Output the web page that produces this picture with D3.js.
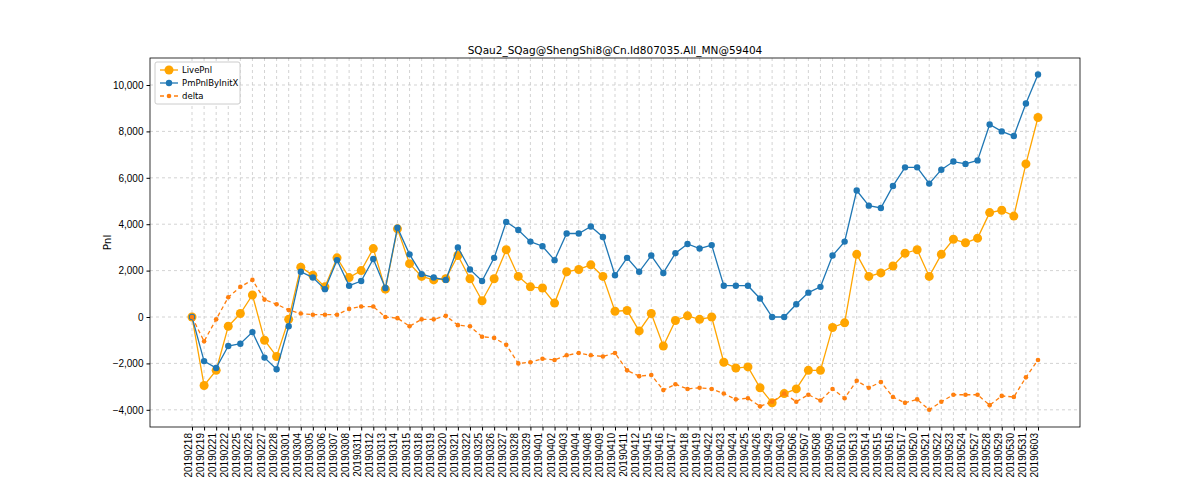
<!DOCTYPE html>
<html><head><meta charset="utf-8">
<script src="https://cdn.jsdelivr.net/npm/d3@7"></script>
<style>body{margin:0;background:#fff}svg{font-family:"DejaVu Sans",sans-serif}</style>
</head><body><div id="chart"></div>
<script>
// data
const dates = ["20190218","20190219","20190221","20190222","20190225","20190226","20190227","20190228",
  "20190301","20190304","20190305","20190306","20190307","20190308","20190311","20190312","20190313","20190314","20190315","20190318","20190319","20190320","20190321","20190322","20190325","20190326","20190327","20190328","20190329",
  "20190401","20190402","20190403","20190404","20190408","20190409","20190410","20190411","20190412","20190415","20190416","20190417","20190418","20190419","20190422","20190423","20190424","20190425","20190426","20190429","20190430",
  "20190506","20190507","20190508","20190509","20190510","20190513","20190514","20190515","20190516","20190517","20190520","20190521","20190522","20190523","20190524","20190527","20190528","20190529","20190530","20190531","20190603"];
const livePnl = [0,-2950,-2300,-400,150,950,-1000,-1700,-100,2150,1800,1300,2550,1700,2000,2950,1200,3800,2300,1750,1600,1650,2650,1650,700,1650,2900,1750,1300,1250,600,1950,2050,2250,1750,250,280,-600,150,-1250,-150,50,-100,0,-1950,-2200,-2150,-3050,-3700,-3300,-3100,-2300,-2300,-450,-250,2700,1750,1900,2200,2750,2900,1750,2700,3350,3200,3400,4500,4600,4350,6600,8600];
const pmPnl = [0,-1900,-2200,-1250,-1150,-650,-1750,-2250,-400,1950,1700,1200,2450,1350,1550,2500,1250,3850,2700,1850,1700,1600,3000,2050,1550,2550,4100,3750,3250,3050,2450,3600,3600,3900,3450,1800,2550,1950,2650,1900,2750,3150,2950,3100,1350,1350,1350,800,0,0,550,1050,1300,2650,3250,5450,4800,4700,5650,6450,6450,5750,6350,6700,6600,6750,8300,8000,7800,9200,10450];
const delta = [0,-1050,-100,850,1300,1600,750,550,300,150,100,100,100,350,450,450,0,-50,-400,-100,-100,50,-350,-400,-850,-900,-1200,-2000,-1950,-1800,-1850,-1650,-1550,-1650,-1700,-1550,-2300,-2550,-2500,-3150,-2900,-3100,-3050,-3100,-3300,-3550,-3500,-3850,-3650,-3300,-3650,-3350,-3600,-3100,-3500,-2750,-3050,-2800,-3450,-3700,-3550,-4000,-3650,-3350,-3350,-3350,-3800,-3400,-3450,-2600,-1850];
const yTicks = [-4000,-2000,0,2000,4000,6000,8000,10000];

const W = 1200, H = 480;
const margin = {top: 58, right: 120, bottom: 53, left: 150};
const width = W - margin.left - margin.right, height = H - margin.top - margin.bottom;

const svg = d3.select("#chart").append("svg").attr("width", W).attr("height", H);
const g = svg.append("g").attr("transform", `translate(${margin.left},${margin.top})`);

const x = d3.scalePoint().domain(dates).range([42, width - 42]);
const y = d3.scaleLinear().domain([-4741, 11164]).range([height, 0]);

// grid
g.append("g").selectAll("line").data(dates).join("line")
  .attr("x1", d => x(d)).attr("x2", d => x(d)).attr("y1", 0).attr("y2", height)
  .attr("stroke", "#c8c8c8").attr("stroke-dasharray", "3,3").attr("stroke-width", 0.8);
g.append("g").selectAll("line").data(yTicks).join("line")
  .attr("x1", 0).attr("x2", width).attr("y1", d => y(d)).attr("y2", d => y(d))
  .attr("stroke", "#c8c8c8").attr("stroke-dasharray", "3,3").attr("stroke-width", 0.8);

// axes
const xa = g.append("g").attr("transform", `translate(0,${height})`).call(d3.axisBottom(x).tickSize(3.5));
xa.selectAll("text").attr("transform", "rotate(-90)").attr("text-anchor", "end")
  .attr("x", -6).attr("y", -4).attr("dy", "0.35em").style("font-size", "10px").attr("fill", "#000");
const ya = g.append("g").call(d3.axisLeft(y).tickValues(yTicks).tickSize(3.5));
ya.selectAll("text").style("font-size", "10px").attr("fill", "#000");
g.selectAll(".domain").remove();
g.append("rect").attr("width", width).attr("height", height).attr("fill", "none").attr("stroke", "#000").attr("stroke-width", 0.8);

const series = [
  {name: "LivePnl", values: livePnl, color: "#ffa500", r: 4.5, dash: null},
  {name: "PmPnlByInitX", values: pmPnl, color: "#1f77b4", r: 3.2, dash: null},
  {name: "delta", values: delta, color: "#ff7f0e", r: 2.3, dash: "4,3"}
];
const line = d3.line().x((d, i) => x(dates[i])).y(d => y(d));
series.forEach(s => {
  g.append("path").attr("d", line(s.values)).attr("fill", "none").attr("stroke", s.color)
    .attr("stroke-width", 1.3).attr("stroke-dasharray", s.dash);
  g.append("g").selectAll("circle").data(s.values).join("circle")
    .attr("cx", (d, i) => x(dates[i])).attr("cy", d => y(d)).attr("r", s.r).attr("fill", s.color);
});

// title and label
svg.append("text").attr("x", margin.left + width / 2).attr("y", 54).attr("text-anchor", "middle")
  .style("font-size", "10.5px").text("SQau2_SQag@ShengShi8@Cn.Id807035.All_MN@59404");
svg.append("text").attr("transform", `translate(111,${margin.top + height / 2}) rotate(-90)`)
  .attr("text-anchor", "middle").style("font-size", "10.5px").text("Pnl");

// legend
const lg = svg.append("g").attr("transform", "translate(155,62)");
lg.append("rect").attr("width", 85).attr("height", 42).attr("rx", 2).attr("fill", "#fff").attr("stroke", "#ccc");
series.forEach((s, i) => {
  const yy = 8 + i * 13;
  lg.append("line").attr("x1", 5).attr("x2", 23).attr("y1", yy).attr("y2", yy).attr("stroke", s.color)
    .attr("stroke-width", 1.3).attr("stroke-dasharray", s.dash);
  lg.append("circle").attr("cx", 14).attr("cy", yy).attr("r", s.r).attr("fill", s.color);
  lg.append("text").attr("x", 27).attr("y", yy).attr("dy", "0.35em").style("font-size", "8.5px").text(s.name);
});
</script></body></html>
